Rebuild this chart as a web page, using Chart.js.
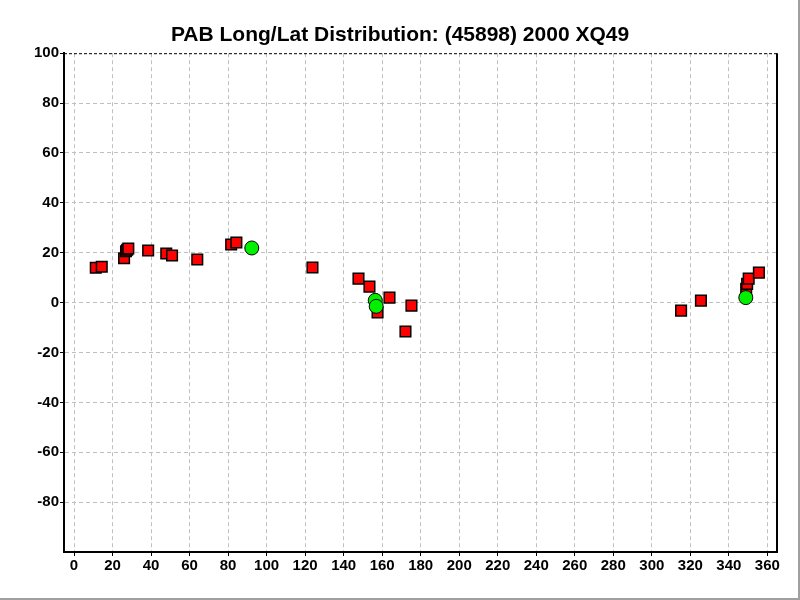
<!DOCTYPE html>
<html>
<head>
<meta charset="utf-8">
<title>PAB Long/Lat Distribution</title>
<script src="https://cdn.jsdelivr.net/npm/chart.js@4/dist/chart.umd.min.js"></script>
<style>
  html, body { margin: 0; padding: 0; background: #fff; }
  canvas { display: block; }
</style>
</head>
<body>
<canvas id="pabChart" width="800" height="600"></canvas>
<script>
// ecliptic longitude / latitude of the observations (deg)
const redLon = [11.3, 14.4, 26.0, 27.0, 27.6, 28.2, 38.5, 47.9, 50.9, 64.0, 81.6, 84.3,
                123.8, 147.7, 153.4, 157.6, 163.8, 172.1, 175.2, 315.2, 325.5, 349.0, 349.5, 350.3, 355.6];
const redLat = [14.0, 14.4, 17.8, 20.6, 21.2, 21.7, 20.9, 19.7, 18.9, 17.3, 23.3, 24.1,
                14.1, 9.6, 6.4, -3.9, 2.0, -11.6, -1.2, -3.2, 0.8, 5.5, 7.5, 9.6, 12.0];
const greenLon = [92.3, 156.4, 156.9, 348.8];
const greenLat = [21.9, 0.9, -1.5, 2.0];

const xTicks = [0, 20, 40, 60, 80, 100, 120, 140, 160, 180, 200, 220, 240, 260, 280, 300, 320, 340, 360];
const yTicks = [-80, -60, -40, -20, 0, 20, 40, 60, 80, 100];

function toPoints(xs, ys) {
  return xs.map((x, i) => ({ x: x, y: ys[i] }));
}

const tickFont = { family: "'Liberation Sans', Arial, sans-serif", size: 15, weight: 'bold' };

// frame round the plot: solid right edge, dashed top edge, light window edge
const framePlugin = {
  id: 'frame',
  afterDraw(chart) {
    const { ctx, chartArea: a } = chart;
    ctx.save();
    ctx.strokeStyle = '#000';
    ctx.lineWidth = 2;
    ctx.beginPath();
    ctx.moveTo(a.right, a.top);
    ctx.lineTo(a.right, a.bottom + 1);
    ctx.stroke();
    ctx.lineWidth = 1;
    ctx.setLineDash([3, 2]);
    ctx.beginPath();
    ctx.moveTo(a.left, a.top + 0.5);
    ctx.lineTo(a.right, a.top + 0.5);
    ctx.stroke();
    ctx.setLineDash([]);
    ctx.strokeStyle = '#a0a0a0';
    ctx.lineWidth = 2;
    ctx.beginPath();
    ctx.moveTo(0, 599);
    ctx.lineTo(799, 599);
    ctx.lineTo(799, 0);
    ctx.stroke();
    ctx.restore();
  }
};

const ctx = document.getElementById('pabChart').getContext('2d');
const pabChart = new Chart(ctx, {
  type: 'scatter',
  data: {
    datasets: [
      {
        label: 'PAB',
        data: toPoints(greenLon, greenLat),
        pointStyle: 'circle',
        pointRadius: 7,
        pointBackgroundColor: '#00f000',
        pointBorderColor: '#000',
        pointBorderWidth: 1
      },
      {
        label: 'Obs',
        data: toPoints(redLon, redLat),
        pointStyle: 'rect',
        pointRadius: 7.5,
        pointBackgroundColor: '#ff0000',
        pointBorderColor: '#000',
        pointBorderWidth: 1.5
      }
    ]
  },
  options: {
    responsive: false,
    animation: false,
    devicePixelRatio: 1,
    layout: { padding: { left: 23, right: 23, top: 0, bottom: 0 } },
    plugins: {
      legend: { display: false },
      tooltip: { enabled: false },
      title: {
        display: true,
        text: 'PAB Long/Lat Distribution: (45898) 2000 XQ49',
        color: '#000',
        font: { family: "'Liberation Sans', Arial, sans-serif", size: 21, weight: 'bold', lineHeight: 1.2 },
        padding: { top: 23, bottom: 5 }
      }
    },
    scales: {
      x: {
        type: 'linear',
        min: -5.2,
        max: 365,
        afterBuildTicks: s => { s.ticks = xTicks.map(v => ({ value: v })); },
        afterFit: s => { s.height = 48; },
        ticks: { color: '#000', font: tickFont, padding: 1, autoSkip: false, maxRotation: 0 },
        grid: { color: '#c0c0c0', tickColor: '#000', tickLength: 4, lineWidth: 1 },
        border: { display: true, color: '#000', width: 2, dash: [4, 3] }
      },
      y: {
        type: 'linear',
        min: -100,
        max: 100,
        afterBuildTicks: s => { s.ticks = yTicks.map(v => ({ value: v })); },
        afterFit: s => { s.width = 41; },
        ticks: { color: '#000', font: tickFont, padding: 1 },
        grid: {
          color: c => (c.tick && c.tick.value === 100) ? 'rgba(0,0,0,0)' : '#c0c0c0',
          tickColor: '#000',
          tickLength: 4,
          lineWidth: 1
        },
        border: { display: true, color: '#000', width: 2, dash: [4, 3] }
      }
    }
  },
  plugins: [framePlugin]
});
</script>
</body>
</html>
